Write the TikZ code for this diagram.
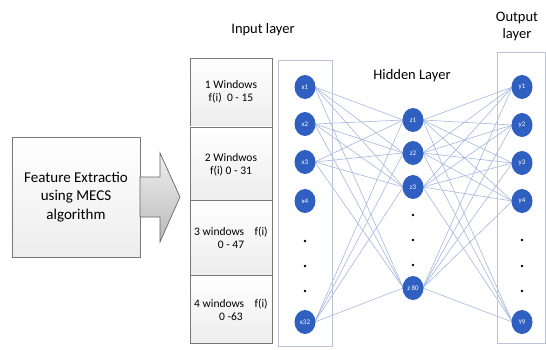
\documentclass[tikz,border=0pt]{standalone}
\usepackage{fontspec}
\setmainfont{Carlito}
\usetikzlibrary{shapes.geometric,backgrounds}
\definecolor{nodeblue}{RGB}{47,95,192}
\definecolor{linkblue}{RGB}{165,183,222}
\definecolor{panelc}{RGB}{185,196,216}
\definecolor{boxgray}{RGB}{120,120,120}
\begin{document}
\begin{tikzpicture}[x=1pt,y=-1pt,
  neuron/.style={ellipse,fill=nodeblue,draw=none,minimum width=21pt,minimum height=24pt,inner sep=0pt,text=white,font=\fontsize{7}{8}\selectfont},
  link/.style={draw=linkblue,line width=0.6pt},
  panel/.style={draw=panelc,line width=0.9pt},
  winbox/.style={draw=boxgray,line width=0.7pt,top color=white,bottom color=gray!14},
  wintext/.style={font=\fontsize{11.5}{13.5}\selectfont,align=center},
  lbl/.style={font=\fontsize{14.5}{17}\selectfont},
  dotc/.style={circle,fill=black,inner sep=0pt,minimum size=2.6pt}]
\useasboundingbox (0,0) rectangle (546,350);
% left box
\draw[winbox] (12,137) rectangle (140,257);
\node[font=\fontsize{15}{18.5}\selectfont,align=center] (fe) at (76,197) {Feature Extractio\\using MECS\\algorithm};
% arrow
\draw[draw=gray!80!black,line width=0.7pt,top color=gray!12,bottom color=gray!55]
  (140,177) -- (160,177) -- (160,153) -- (180,197) -- (160,242) -- (160,217) -- (140,217) -- cycle;
% window boxes
\draw[winbox] (190,58) rectangle (272,127);
\draw[winbox] (190,127) rectangle (272,200);
\draw[winbox] (190,200) rectangle (272,275);
\draw[winbox] (190,275) rectangle (272,343);
\node[wintext] (w1) at (231,92) {1 Windows\\f(i)\ \ 0 - 15};
\node[wintext] (w2) at (231,165) {2 Windwos\\f(i) 0 - 31};
\node[wintext] (w3) at (231,238) {3 windows\ \ \ \ f(i)\\0 - 47};
\node[wintext] (w4) at (231,310) {4 windows\ \ \ \ f(i)\\0 -63};
% labels
\node[lbl] (il) at (263,30) {Input layer};
\node[lbl] (hl) at (412,76) {Hidden Layer};
\node[lbl,align=center] (ol) at (517,26) {Output\\layer};
% panels
\draw[panel] (278,60) rectangle (332,346);
\draw[panel] (497,52) rectangle (545,343);
% input nodes
\node[neuron] (x1) at (305,87) {x1};
\node[neuron] (x2) at (305,124) {x2};
\node[neuron] (x3) at (305,162) {x3};
\node[neuron] (x4) at (305,201) {x4};
\node[dotc] (xd1) at (305,241) {};
\node[dotc] (xd2) at (305,266) {};
\node[dotc] (xd3) at (305,291) {};
\node[neuron] (x32) at (305,322) {x32};
% hidden nodes
\node[neuron] (z1) at (413,120) {z1};
\node[neuron] (z2) at (413,153) {z2};
\node[neuron] (z3) at (413,187) {z3};
\node[dotc] (zd1) at (413,215) {};
\node[dotc] (zd2) at (413,240) {};
\node[dotc] (zd3) at (413,265) {};
\node[neuron] (z80) at (413,288) {z 80};
% output nodes
\node[neuron] (y1) at (522,87) {y1};
\node[neuron] (y2) at (522,125) {y2};
\node[neuron] (y3) at (522,163) {y3};
\node[neuron] (y4) at (522,201) {y4};
\node[dotc] (yd1) at (522,240) {};
\node[dotc] (yd2) at (522,266) {};
\node[dotc] (yd3) at (522,291) {};
\node[neuron] (y9) at (522,322) {Y9};
% links behind the nodes
\begin{pgfonlayer}{background}
\foreach \a in {x1,x2,x3,x32}
  \foreach \b in {z1,z2,z3,z80}
    \draw[link] ([xshift=-1pt]\a.east) -- ([xshift=1pt]\b.west);
\foreach \a in {z1,z2,z3,z80}
  \foreach \b in {y1,y2,y3,y4,y9}
    \draw[link] ([xshift=-1pt]\a.east) -- ([xshift=1pt]\b.west);
\end{pgfonlayer}
\end{tikzpicture}
\end{document}
